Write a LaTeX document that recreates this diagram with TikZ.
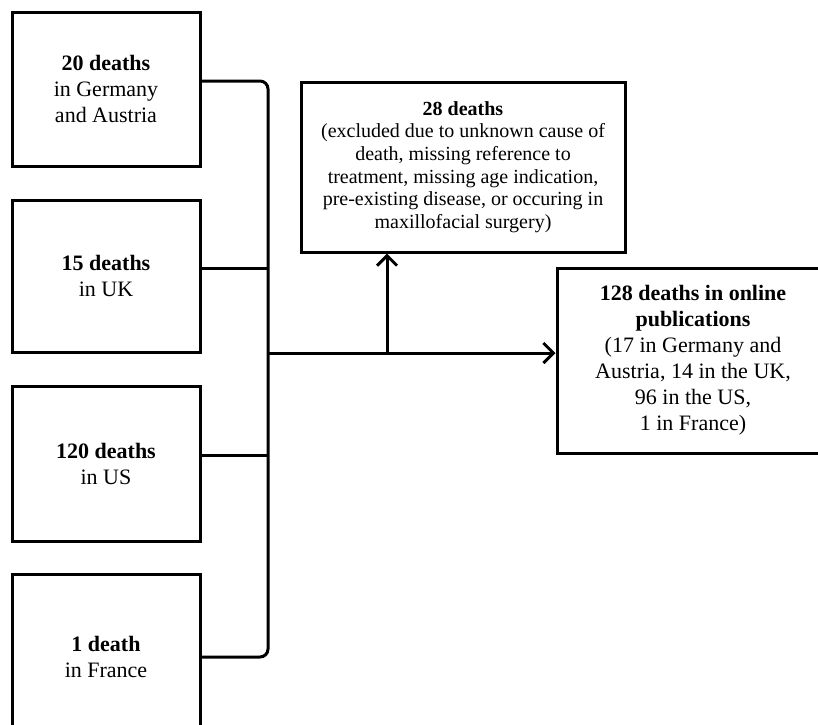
\documentclass[tikz,border=0pt]{standalone}
\usepackage{fontspec}
\setmainfont{Liberation Serif}
\usetikzlibrary{arrows.meta}
\begin{document}
\begin{tikzpicture}[x=1pt,y=-1pt,line width=3pt,
  box/.style={draw,line width=3pt,align=center,inner sep=0pt},
  big/.style={font=\fontsize{22}{26}\selectfont},
  small/.style={font=\fontsize{20}{22.7}\selectfont},
  arr/.style={-{Straight Barb[length=10pt,width=20pt,line width=3pt]}}]
\useasboundingbox (0,0) rectangle (818,724);
\node[box,big,minimum width=188pt,minimum height=154pt] (b1) at (106,89) {\textbf{20 deaths}\\in Germany\\and Austria};
\node[box,big,minimum width=188pt,minimum height=152pt] (b2) at (106,276) {\textbf{15 deaths}\\in UK};
\node[box,big,minimum width=188pt,minimum height=155pt] (b3) at (106,463.5) {\textbf{120 deaths}\\in US};
\node[box,big,minimum width=188pt,minimum height=166pt] (b4) at (106,657) {\textbf{1 death}\\in France};
\node[box,small,minimum width=324pt,minimum height=170pt] (top) at (463,167) {\textbf{28 deaths}\\(excluded due to unknown cause of\\death, missing reference to\\treatment, missing age indication,\\pre-existing disease, or occuring in\\maxillofacial surgery)};
\node[box,big,minimum width=272pt,minimum height=185pt] (res) at (693,360.5) {\textbf{128 deaths in online}\\\textbf{publications}\\(17 in Germany and\\Austria, 14 in the UK,\\96 in the US,\\1 in France)};
\coordinate (p1) at ([yshift=8pt]b1.east);
\coordinate (p2) at ([yshift=8pt]b2.east);
\coordinate (p3) at ([yshift=8pt]b3.east);
\coordinate (bt) at (268,86);
\coordinate (bb) at (268,652);
\coordinate (m) at (268,353);
\coordinate (j) at (387,353);
\draw[rounded corners=8pt] (p1) -- (p1 -| bt) -- (bb |- b4.east) -- (b4.east);
\draw (p2) -- (p2 -| bt);
\draw (p3) -- (p3 -| bt);
\draw[arr] (m) -- (m -| res.west);
\draw[arr] (j) -- (j |- top.south);
\end{tikzpicture}
\end{document}
